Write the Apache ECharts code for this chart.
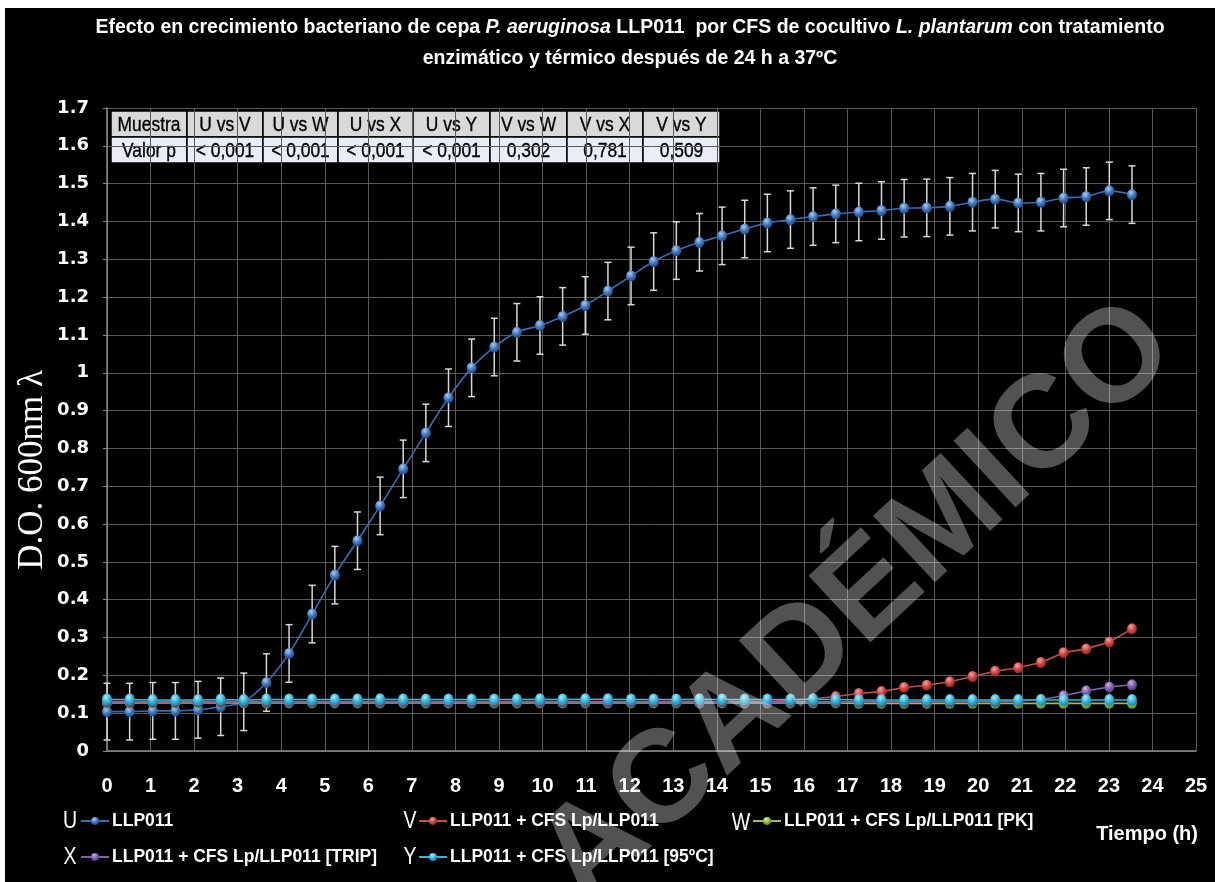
<!DOCTYPE html>
<html>
<head>
<meta charset="utf-8">
<script src="https://cdn.jsdelivr.net/npm/echarts@6/dist/echarts.min.js"></script>
<style>
  html, body { margin: 0; padding: 0; background: #fff; }
  #wrap { position: relative; width: 1215px; height: 882px; background: #fff; overflow: hidden; }
  #bg { position: absolute; left: 5px; top: 8px; width: 1210px; height: 874px; background: #000; }
  #chart { position: absolute; left: 0; top: 0; width: 1215px; height: 882px; }
</style>
</head>
<body>
<div id="wrap"><div id="bg"></div><div id="chart"></div></div>
<script>
// ---------------- DATA ----------------
const timeHours = [0, 0.52, 1.05, 1.57, 2.09, 2.61, 3.14, 3.66, 4.18, 4.71, 5.23, 5.75, 6.27, 6.80, 7.32, 7.84,
  8.37, 8.89, 9.41, 9.94, 10.46, 10.98, 11.50, 12.03, 12.55, 13.07, 13.60, 14.12, 14.64, 15.16, 15.69,
  16.21, 16.73, 17.26, 17.78, 18.30, 18.82, 19.35, 19.87, 20.39, 20.92, 21.44, 21.96, 22.48, 23.01, 23.53];

const seriesU = [0.104, 0.104, 0.106, 0.106, 0.109, 0.117, 0.130, 0.181, 0.258, 0.362, 0.465, 0.556, 0.648, 0.746, 0.841, 0.934,
  1.013, 1.068, 1.107, 1.125, 1.149, 1.178, 1.216, 1.256, 1.294, 1.323, 1.345, 1.362, 1.380, 1.396, 1.405,
  1.413, 1.420, 1.425, 1.429, 1.435, 1.436, 1.440, 1.451, 1.459, 1.449, 1.451, 1.462, 1.466, 1.481, 1.471];

const errorU = [0.075, 0.075, 0.075, 0.075, 0.075, 0.076, 0.076, 0.076, 0.076, 0.076, 0.076, 0.076, 0.076, 0.076, 0.076, 0.076,
  0.076, 0.076, 0.076, 0.076, 0.076, 0.076, 0.076, 0.076, 0.076, 0.076, 0.076, 0.076, 0.076, 0.076, 0.076,
  0.076, 0.076, 0.076, 0.076, 0.076, 0.076, 0.076, 0.076, 0.076, 0.076, 0.076, 0.076, 0.076, 0.076, 0.076];

const seriesV = [0.131, 0.131, 0.131, 0.131, 0.131, 0.131, 0.131, 0.131, 0.131, 0.131, 0.131, 0.131, 0.131, 0.131, 0.131, 0.131,
  0.131, 0.131, 0.131, 0.131, 0.131, 0.131, 0.131, 0.131, 0.131, 0.131, 0.131, 0.131, 0.131, 0.131, 0.134,
  0.138, 0.144, 0.152, 0.157, 0.168, 0.174, 0.183, 0.197, 0.211, 0.220, 0.234, 0.260, 0.270, 0.288, 0.323];

const seriesW = [0.127, 0.127, 0.127, 0.127, 0.127, 0.127, 0.127, 0.127, 0.127, 0.127, 0.127, 0.127, 0.127, 0.127, 0.127, 0.127,
  0.127, 0.127, 0.127, 0.127, 0.127, 0.127, 0.127, 0.127, 0.127, 0.127, 0.127, 0.127, 0.127, 0.127, 0.127,
  0.127, 0.127, 0.126, 0.126, 0.126, 0.126, 0.126, 0.126, 0.126, 0.126, 0.126, 0.126, 0.126, 0.126, 0.126];

const seriesX = [0.130, 0.130, 0.130, 0.130, 0.130, 0.130, 0.130, 0.130, 0.130, 0.130, 0.130, 0.130, 0.130, 0.130, 0.130, 0.130,
  0.130, 0.130, 0.130, 0.130, 0.130, 0.130, 0.130, 0.130, 0.130, 0.130, 0.130, 0.130, 0.130, 0.130, 0.130,
  0.130, 0.130, 0.130, 0.130, 0.130, 0.130, 0.130, 0.131, 0.131, 0.132, 0.136, 0.146, 0.159, 0.169, 0.175];

const seriesY = [0.136, 0.136, 0.135, 0.135, 0.135, 0.136, 0.135, 0.136, 0.136, 0.136, 0.136, 0.136, 0.137, 0.136, 0.136, 0.136,
  0.136, 0.136, 0.136, 0.137, 0.136, 0.137, 0.137, 0.136, 0.136, 0.136, 0.137, 0.136, 0.136, 0.136, 0.136,
  0.136, 0.136, 0.135, 0.135, 0.135, 0.135, 0.135, 0.135, 0.135, 0.135, 0.135, 0.135, 0.135, 0.135, 0.135];

const seriesNames = ['LLP011', 'LLP011 + CFS Lp/LLP011', 'LLP011 + CFS Lp/LLP011 [PK]',
  'LLP011 + CFS Lp/LLP011 [TRIP]', 'LLP011 + CFS Lp/LLP011 [95ºC]'];
const seriesLetters = ['U', 'V', 'W', 'X', 'Y'];

const tableHeader = ['Muestra', 'U vs V', 'U vs W', 'U vs X', 'U vs Y', 'V vs W', 'V vs X', 'V vs Y'];
const tableValues = ['Valor p', '< 0,001', '< 0,001', '< 0,001', '< 0,001', '0,302', '0,781', '0,509'];

const titleLine1 = ['Efecto en crecimiento bacteriano de cepa ', 'P. aeruginosa', ' LLP011  por CFS de cocultivo ', 'L. plantarum', ' con tratamiento'];
const titleLine2 = 'enzimático y térmico después de 24 h a 37ºC';
const yAxisTitle = 'D.O. 600nm λ';
const xAxisTitle = 'Tiempo (h)';
const watermark = 'ACADÉMICO';

// ---------------- STYLE ----------------
const SANS = "'Liberation Sans', Arial, sans-serif";
const colors = [
  { base: '#3d72b8', light: '#a9cdf5', dark: '#1d4680', line: '#3a6db0' },
  { base: '#c9413d', light: '#f5a3a0', dark: '#8a1f1c', line: '#c0504d' },
  { base: '#8fb83e', light: '#d7f09a', dark: '#5b7a1e', line: '#9bbb59' },
  { base: '#7d5aa8', light: '#c7b0e6', dark: '#4d3270', line: '#8064a2' },
  { base: '#2fb3d4', light: '#a5ecfa', dark: '#17809c', line: '#3cb4d2' }
];
function sphere(c) {
  return { type: 'radial', x: 0.4, y: 0.3, r: 0.75,
    colorStops: [{ offset: 0, color: c.light }, { offset: 0.55, color: c.base }, { offset: 1, color: c.dark }] };
}

const chart = echarts.init(document.getElementById('chart'), null, { renderer: 'canvas' });

const allSeriesData = [seriesU, seriesV, seriesW, seriesX, seriesY];
const lineSeries = allSeriesData.map((vals, k) => ({
  name: seriesNames[k],
  type: 'line',
  smooth: k === 0 ? 0.35 : false,
  data: timeHours.map((t, i) => [t, vals[i]]),
  symbol: 'circle',
  symbolSize: k === 4 ? [10, 12] : [10, 11],
  showSymbol: true,
  lineStyle: { color: colors[k].line, width: 1.6 },
  itemStyle: { color: sphere(colors[k]), borderWidth: 0 },
  z: 3 + k,
  animation: false
}));

const errorSeries = {
  type: 'custom',
  name: 'errU',
  data: timeHours.map((t, i) => [t, seriesU[i] - errorU[i], seriesU[i] + errorU[i]]),
  renderItem: function (params, api) {
    const x = api.value(0);
    const top = api.coord([x, api.value(2)]);
    const bot = api.coord([x, api.value(1)]);
    const w = 3.5;
    const st = { stroke: '#d8d8d8', lineWidth: 1.5 };
    return { type: 'group', children: [
      { type: 'line', shape: { x1: top[0], y1: top[1], x2: bot[0], y2: bot[1] }, style: st },
      { type: 'line', shape: { x1: top[0] - w, y1: top[1], x2: top[0] + w, y2: top[1] }, style: st },
      { type: 'line', shape: { x1: bot[0] - w, y1: bot[1], x2: bot[0] + w, y2: bot[1] }, style: st }
    ] };
  },
  z: 2,
  animation: false
};

// legend layout positions (one legend per item)
const legendPos = [
  { left: 80, top: 812 }, { left: 418, top: 812 }, { left: 752, top: 812 },
  { left: 80, top: 848 }, { left: 418, top: 848 }
];
const letterPos = [[70, 822], [410, 822], [741, 824], [70, 858], [410, 858]];

const legends = seriesNames.map((n, k) => ({
  data: [n], left: legendPos[k].left, top: legendPos[k].top,
  itemWidth: 28, itemHeight: 10, itemGap: 3, padding: 0,
  textStyle: { color: '#fff', fontSize: 17.5, fontWeight: 'bold', fontFamily: SANS, padding: [0, 0, 0, -2] },
  selectedMode: false
}));

// table graphic
const colEdges = [111, 187, 263, 338, 413, 490, 567, 643, 720];
const rowEdges = [111, 137, 163];
const tableChildren = [];
[tableHeader, tableValues].forEach((row, r) => {
  row.forEach((txt, c) => {
    tableChildren.push({
      type: 'rect',
      shape: { x: colEdges[c], y: rowEdges[r], width: colEdges[c + 1] - colEdges[c], height: rowEdges[r + 1] - rowEdges[r] },
      style: { fill: r === 0 ? '#d9d9d9' : '#e9edf5', stroke: '#000', lineWidth: 1.5 }
    });
    tableChildren.push({
      type: 'text',
      x: (colEdges[c] + colEdges[c + 1]) / 2, y: (rowEdges[r] + rowEdges[r + 1]) / 2 + 1,
      scaleX: 0.85,
      style: { text: txt, fill: '#000', font: "20.5px " + SANS, textAlign: 'center', textVerticalAlign: 'middle',
        stroke: '#000', lineWidth: 0.35 }
    });
  });
});

const graphics = [
  // title
  { type: 'text', x: 630, y: 28, z: 10,
    style: { text: '{n|' + titleLine1[0] + '}{i|' + titleLine1[1] + '}{n|' + titleLine1[2] + '}{i|' + titleLine1[3] + '}{n|' + titleLine1[4] + '}',
      textAlign: 'center', textVerticalAlign: 'middle', fill: '#fff',
      rich: {
        n: { fontSize: 19.5, fontWeight: 'bold', fontFamily: SANS, color: '#fff' },
        i: { fontSize: 19.5, fontWeight: 'bold', fontStyle: 'italic', fontFamily: SANS, color: '#fff' }
      } } },
  { type: 'text', x: 630, y: 59, z: 10,
    style: { text: titleLine2, textAlign: 'center', textVerticalAlign: 'middle', fill: '#fff',
      font: "bold 19.5px " + SANS } },
  // y axis title
  { type: 'text', x: 33, y: 470, rotation: Math.PI / 2, z: 10,
    style: { text: yAxisTitle, textAlign: 'center', textVerticalAlign: 'middle', fill: '#fff',
      font: "35px 'Liberation Serif', 'DejaVu Serif', serif" } },
  // x axis title
  { type: 'text', x: 1198, y: 834, z: 10,
    style: { text: xAxisTitle, textAlign: 'right', textVerticalAlign: 'middle', fill: '#fff',
      font: "bold 20px " + SANS } },
  // table
  { type: 'group', z: 20, children: tableChildren },
  // watermark
  { type: 'text', x: 858, y: 604, rotation: 0.75, z: 50, silent: true,
    style: { text: watermark, textAlign: 'center', textVerticalAlign: 'middle',
      fill: 'rgba(255,255,255,0.32)', font: "bold 132px " + SANS } }
].concat(seriesLetters.map((L, k) => ({
  type: 'text', x: letterPos[k][0], y: letterPos[k][1], z: 10, scaleX: 0.85,
  style: { text: L, textAlign: 'center', textVerticalAlign: 'middle', fill: '#fff', font: "23px " + SANS }
})));

const option = {
  backgroundColor: 'transparent',
  animation: false,
  grid: { left: 107, right: 19, top: 108, bottom: 131, containLabel: false },
  xAxis: {
    type: 'value', min: 0, max: 25, interval: 1,
    axisLine: { show: true, onZero: false, lineStyle: { color: '#8a8a8a', width: 1.5 } },
    axisTick: { show: false },
    splitLine: { show: true, lineStyle: { color: '#595959', width: 1 } },
    axisLabel: { color: '#fff', fontSize: 20, fontWeight: 'bold', fontFamily: SANS, margin: 25 }
  },
  yAxis: {
    type: 'value', min: 0, max: 1.7, interval: 0.1,
    axisLine: { show: true, onZero: false, lineStyle: { color: '#8a8a8a', width: 1.5 } },
    axisTick: { show: true, length: 4, inside: false, lineStyle: { color: '#8a8a8a' } },
    splitLine: { show: true, lineStyle: { color: '#595959', width: 1 } },
    axisLabel: { color: '#fff', fontSize: 18, fontWeight: 'bold', fontFamily: "'DejaVu Sans', sans-serif", margin: 18,
      formatter: v => String(Math.round(v * 10) / 10) }
  },
  legend: legends,
  series: [errorSeries].concat(lineSeries),
  graphic: graphics
};
chart.setOption(option);
</script>
</body>
</html>
